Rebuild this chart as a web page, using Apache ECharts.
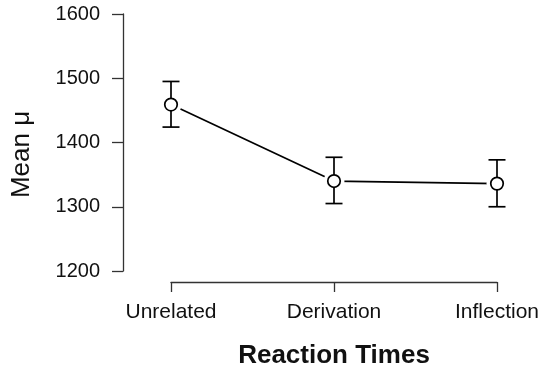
<!DOCTYPE html>
<html>
<head>
<meta charset="utf-8">
<script src="https://cdn.jsdelivr.net/npm/echarts@6/dist/echarts.min.js"></script>
<style>
html,body{margin:0;padding:0;background:#fff;}
#chart{width:546px;height:366px;}
</style>
</head>
<body>
<div id="chart"></div>
<script>
const categories = ['Unrelated', 'Derivation', 'Inflection'];
const means = [1459, 1340, 1336];
const lower = [1424, 1305, 1300];
const upper = [1495, 1377, 1373];
const yTicks = [1200, 1300, 1400, 1500, 1600];

const FONT = '"Liberation Sans", Arial, sans-serif';
const INK = '#111';
const chart = echarts.init(document.getElementById('chart'), null, {renderer: 'canvas'});

const errData = categories.map((c, i) => [i, lower[i], upper[i]]);

chart.setOption({
  animation: false,
  backgroundColor: '#fff',
  grid: {left: 171, right: 49, top: 14, bottom: 95, outerBoundsMode: 'none', containLabel: false},
  xAxis: {
    type: 'category',
    data: categories,
    boundaryGap: false,
    offset: 11,
    axisLine: {lineStyle: {color: '#333', width: 1.3}},
    axisTick: {length: 10, lineStyle: {color: '#333', width: 1.3}},
    axisLabel: {fontFamily: FONT, fontSize: 21, color: INK, margin: 20},
    splitLine: {show: false},
    name: 'Reaction Times',
    nameLocation: 'middle',
    nameGap: 61,
    nameTextStyle: {fontFamily: FONT, fontSize: 26, fontWeight: 'bold', color: INK}
  },
  yAxis: {
    type: 'value',
    min: yTicks[0],
    max: yTicks[yTicks.length - 1],
    interval: 100,
    offset: 48,
    axisLine: {show: true, lineStyle: {color: '#333', width: 1.3}},
    axisTick: {show: true, length: 11, lineStyle: {color: '#333', width: 1.3}},
    axisLabel: {fontFamily: FONT, fontSize: 20, color: INK, margin: 23, formatter: v => String(v)},
    splitLine: {show: false},
    name: 'Mean μ',
    nameLocation: 'middle',
    nameGap: 88,
    nameRotate: 90,
    nameTextStyle: {fontFamily: FONT, fontSize: 26, color: INK, padding: [0, 24, 0, 0]}
  },
  series: [
    {
      type: 'line',
      data: means,
      showSymbol: false,
      symbol: 'none',
      clip: false,
      z: 1,
      lineStyle: {color: '#000', width: 1.7}
    },
    {
      type: 'scatter',
      data: means,
      symbol: 'circle',
      symbolSize: 21,
      clip: false,
      z: 2,
      itemStyle: {color: '#fff', opacity: 1},
      silent: true
    },
    {
      type: 'custom',
      data: errData,
      clip: false,
      z: 3,
      renderItem: function (params, api) {
        const x = api.value(0);
        const top = api.coord([x, api.value(2)]);
        const bot = api.coord([x, api.value(1)]);
        const w = 8.5;
        const st = {stroke: '#000', lineWidth: 1.7};
        return {
          type: 'group',
          children: [
            {type: 'line', shape: {x1: top[0], y1: top[1], x2: bot[0], y2: bot[1]}, style: st},
            {type: 'line', shape: {x1: top[0] - w, y1: top[1], x2: top[0] + w, y2: top[1]}, style: st},
            {type: 'line', shape: {x1: bot[0] - w, y1: bot[1], x2: bot[0] + w, y2: bot[1]}, style: st}
          ]
        };
      }
    },
    {
      type: 'scatter',
      data: means,
      symbol: 'circle',
      symbolSize: 12.5,
      clip: false,
      z: 4,
      itemStyle: {color: '#fff', borderColor: '#000', borderWidth: 1.7, opacity: 1}
    }
  ]
});
</script>
</body>
</html>
